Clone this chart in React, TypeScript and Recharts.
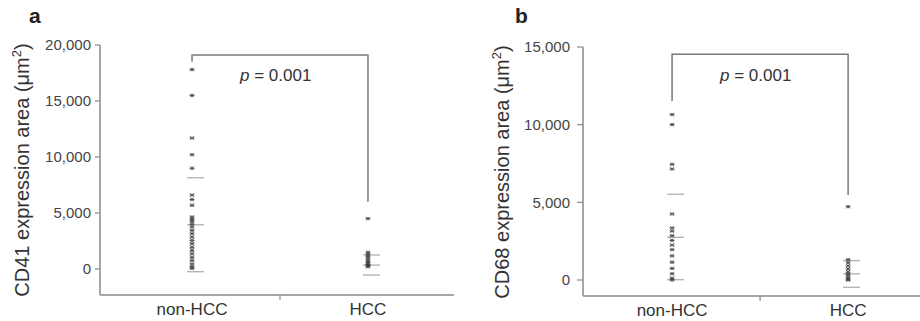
import { ComposedChart, Line, Scatter, XAxis, YAxis } from 'recharts';

const groups = ['non-HCC', 'HCC'];

// CD41 (panel a)
const cd41NonHcc = [17800, 15500, 11700, 10200, 9000, 6600, 6200, 5700, 4650, 4450, 4250, 4000, 3750, 3450, 3150, 2850, 2550, 2250, 1950, 1650, 1350, 1050, 750, 450, 200, 60];
const cd41Hcc = [4500, 1500, 1300, 1100, 900, 700, 550, 400, 300, 200];
const cd41NonHccStats = [8150, 3950, -240];
const cd41HccStats = [1250, 350, -540];
const cd41Bracket = [18500, 19100, 6000];
const cd41Ticks = [0, 5000, 10000, 15000, 20000];

// CD68 (panel b)
const cd68NonHcc = [10650, 10000, 7450, 7150, 4250, 3350, 3150, 2850, 2550, 2250, 1950, 1550, 1150, 750, 400, 120, 0];
const cd68Hcc = [4720, 1300, 1100, 900, 700, 500, 350, 200, 60, 0];
const cd68NonHccStats = [5520, 2750, 20];
const cd68HccStats = [1250, 400, -470];
const cd68Bracket = [11530, 14530, 5470];
const cd68Ticks = [0, 5000, 10000, 15000];

const AXIS = '#8a8a8a';
const INK = '#3a3a3a';
const FONT = '"Liberation Sans", Arial, Helvetica, sans-serif';

const toPts = (vals: number[], x: number) => vals.map((y) => ({ x, y }));
const bracketPts = (b: number[]) => [
  { x: 1, y: b[0] },
  { x: 1, y: b[1] },
  { x: 2, y: b[1] },
  { x: 2, y: b[2] },
];

const Dot = (p: any) => {
  const { cx, cy } = p;
  if (cx == null || cy == null) return <g />;
  return (
    <g stroke={INK} strokeWidth={1} opacity={0.85}>
      <line x1={cx - 2.5} y1={cy} x2={cx + 2.5} y2={cy} />
      <line x1={cx - 1.8} y1={cy - 1.8} x2={cx + 1.8} y2={cy + 1.8} />
      <line x1={cx - 1.8} y1={cy + 1.8} x2={cx + 1.8} y2={cy - 1.8} />
      <circle cx={cx} cy={cy} r={1.3} fill={INK} stroke="none" />
    </g>
  );
};

const Dash = (p: any) => {
  const { cx, cy } = p;
  if (cx == null || cy == null) return <g />;
  return <line x1={cx - 5} y1={cy} x2={cx + 12} y2={cy} stroke="#b5b5b5" strokeWidth={1.4} />;
};

const XTick = (p: any) => {
  const { x, y, payload } = p;
  if (payload.value === 1.5) {
    return <line x1={x} y1={y} x2={x} y2={y + 5} stroke={AXIS} strokeWidth={1.2} />;
  }
  return (
    <text x={x} y={y + 20} textAnchor="middle" fontSize={17} fill="#333" fontFamily={FONT}>
      {groups[payload.value - 1]}
    </text>
  );
};

type PanelProps = {
  letter: string;
  title: string;
  nonHcc: number[];
  hcc: number[];
  nonHccStats: number[];
  hccStats: number[];
  bracket: number[];
  ticks: number[];
  yDomain: [number, number];
  xDomain: [number, number];
  width: number;
  top: number;
  plotH: number;
  axisW: number;
  tickSize: number;
  tickMargin: number;
  titleX: number;
  letterX: number;
  pX: number;
  rightBorder: boolean;
};

function Panel(props: PanelProps) {
  const {
    letter, title, nonHcc, hcc, nonHccStats, hccStats, bracket, ticks, yDomain, xDomain,
    width, top, plotH, axisW, tickSize, tickMargin, titleX, letterX, pX, rightBorder,
  } = props;
  const height = 321;
  const xAxisH = height - top - plotH;
  const plotMid = top + plotH / 2;
  return (
    <div style={{ position: 'relative', width, height }}>
      <ComposedChart width={width} height={height} margin={{ top, right: 6, bottom: 0, left: 0 }}>
        <XAxis
          xAxisId={0}
          dataKey="x"
          type="number"
          domain={xDomain}
          ticks={[1, 1.5, 2]}
          allowDataOverflow
          height={xAxisH}
          tickSize={0}
          tickMargin={0}
          tickLine={false}
          tick={<XTick />}
          axisLine={{ stroke: AXIS, strokeWidth: 1.5 }}
          interval={0}
        />
        <XAxis
          xAxisId="top"
          dataKey="x"
          type="number"
          orientation="top"
          domain={xDomain}
          allowDataOverflow
          height={0}
          tick={false}
          tickLine={false}
          axisLine={{ stroke: AXIS, strokeWidth: 1.5 }}
        />
        <YAxis
          yAxisId={0}
          type="number"
          domain={yDomain}
          ticks={ticks}
          allowDataOverflow
          width={axisW}
          tickSize={tickSize}
          tickMargin={tickMargin}
          interval={0}
          tickFormatter={(v: number) => v.toLocaleString('en-US')}
          tick={{ fontSize: 15, fill: '#444', fontFamily: FONT }}
          tickLine={{ stroke: AXIS, strokeWidth: 1.2 }}
          axisLine={{ stroke: AXIS, strokeWidth: 1.5 }}
        />
        <YAxis
          yAxisId="right"
          type="number"
          orientation="right"
          domain={yDomain}
          allowDataOverflow
          width={0}
          tick={false}
          tickLine={false}
          axisLine={rightBorder ? { stroke: AXIS, strokeWidth: 1.5 } : false}
        />
        <Line
          data={bracketPts(bracket)}
          dataKey="y"
          type="linear"
          stroke="#7a7a7a"
          strokeWidth={1.5}
          dot={false}
          activeDot={false}
          isAnimationActive={false}
        />
        <Scatter data={toPts(nonHccStats, 1)} dataKey="y" shape={<Dash />} isAnimationActive={false} />
        <Scatter data={toPts(hccStats, 2)} dataKey="y" shape={<Dash />} isAnimationActive={false} />
        <Scatter data={toPts(nonHcc, 1)} dataKey="y" shape={<Dot />} isAnimationActive={false} />
        <Scatter data={toPts(hcc, 2)} dataKey="y" shape={<Dot />} isAnimationActive={false} />
      </ComposedChart>
      <div
        style={{
          position: 'absolute', left: letterX, top: 4, fontSize: 21, fontWeight: 700,
          fontFamily: FONT, color: '#222', lineHeight: '24px',
        }}
      >
        {letter}
      </div>
      <div
        style={{
          position: 'absolute', left: titleX, top: plotMid, width: 0, height: 0,
        }}
      >
        <div
          style={{
            position: 'absolute', left: 0, top: 0, transform: 'translate(-50%, -50%) rotate(-90deg)',
            whiteSpace: 'nowrap', fontSize: 20, fontFamily: FONT, color: '#333', lineHeight: '22px',
          }}
        >
          {title} (μm<sup style={{ fontSize: 13, lineHeight: 0 }}>2</sup>)
        </div>
      </div>
      <div
        style={{
          position: 'absolute', left: pX, top: 66, fontSize: 17, fontFamily: FONT, color: '#333',
          lineHeight: '20px', whiteSpace: 'nowrap',
        }}
      >
        <i>p</i> = 0.001
      </div>
    </div>
  );
}

export default function App() {
  return (
    <div
      style={{
        position: 'fixed', left: 0, top: 0, width: 920, height: 321, overflow: 'hidden',
        background: '#fff',
      }}
    >
      <div style={{ position: 'absolute', left: 0, top: 0 }}>
        <Panel
          letter="a"
          title="CD41 expression area"
          nonHcc={cd41NonHcc}
          hcc={cd41Hcc}
          nonHccStats={cd41NonHccStats}
          hccStats={cd41HccStats}
          bracket={cd41Bracket}
          ticks={cd41Ticks}
          yDomain={[-2320, 20000]}
          xDomain={[0.477, 2.489]}
          width={460}
          top={45}
          plotH={250}
          axisW={100}
          tickSize={5}
          tickMargin={4}
          titleX={22}
          letterX={29}
          pX={240}
          rightBorder
        />
      </div>
      <div style={{ position: 'absolute', left: 460, top: 0, width: 460, height: 321, overflow: 'hidden' }}>
        <Panel
          letter="b"
          title="CD68 expression area"
          nonHcc={cd68NonHcc}
          hcc={cd68Hcc}
          nonHccStats={cd68NonHccStats}
          hccStats={cd68HccStats}
          bracket={cd68Bracket}
          ticks={cd68Ticks}
          yDomain={[-1030, 15000]}
          xDomain={[0.494, 2.505]}
          width={483}
          top={47}
          plotH={249}
          axisW={123}
          tickSize={6}
          tickMargin={7}
          titleX={42}
          letterX={55}
          pX={260}
          rightBorder={false}
        />
      </div>
    </div>
  );
}
